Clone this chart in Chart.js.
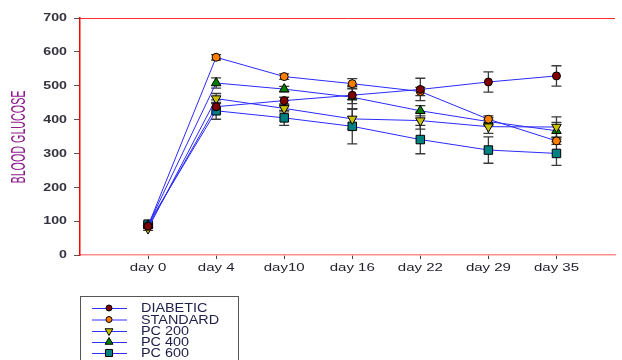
<!DOCTYPE html>
<html>
<head>
<meta charset="utf-8">
<script src="https://cdn.jsdelivr.net/npm/chart.js@4.4.0/dist/chart.umd.min.js"></script>
<style>
  body { margin: 0; background: #fff; }
  canvas { display: block; }
</style>
</head>
<body>
<canvas id="chart" width="622" height="360"></canvas>
<script>
// data
const days = ["day 0", "day 4", "day10", "day 16", "day 22", "day 29", "day 35"];
const seriesNames = ["DIABETIC", "STANDARD", "PC 200", "PC 400", "PC 600"];

const diabetic = [85, 438, 456, 472, 489, 511, 529];
const standard = [86, 584, 527, 506, 483, 401, 337];
const pc200 = [78, 462, 433, 402, 397, 379, 378];
const pc400 = [88, 508, 490, 466, 426, 394, 367];
const pc600 = [91, 426, 405, 380, 341, 310, 300];

const diabeticErr = [5, 20, 10, 25, 33, 30, 30];
const standardErr = [5, 8, 8, 15, 12, 10, 10];
const pc200Err = [5, 15, 10, 30, 25, 20, 30];
const pc400Err = [5, 15, 8, 35, 15, 12, 25];
const pc600Err = [5, 25, 22, 52, 42, 39, 35];

const FONT = "'Liberation Sans', Arial, sans-serif";

const styles = [
  { fill: "#800000", pointStyle: "circle", radius: 4, rotation: 0 },
  { fill: "#ff8000", pointStyle: "circle", radius: 4, rotation: 0 },
  { fill: "#c8c000", pointStyle: "triangle", radius: 5.5, rotation: 180 },
  { fill: "#008000", pointStyle: "triangle", radius: 5.5, rotation: 0 },
  { fill: "#008080", pointStyle: "rect", radius: 6, rotation: 0 },
];

const values = [diabetic, standard, pc200, pc400, pc600];
const errors = [diabeticErr, standardErr, pc200Err, pc400Err, pc600Err];

// draw text squeezed/stretched along its own direction
function stretchText(ctx, txt, x, y, font, sx, align, baseline, color, rotate) {
  ctx.save();
  ctx.translate(x, y);
  if (rotate) ctx.rotate(-Math.PI / 2);
  ctx.scale(sx, 1);
  ctx.font = font;
  ctx.fillStyle = color;
  ctx.textAlign = align;
  ctx.textBaseline = baseline;
  ctx.fillText(txt, 0, 0);
  ctx.restore();
}

const extras = {
  id: "extras",
  beforeDatasetsDraw(chart) {
    const { ctx, scales: { x, y } } = chart;
    ctx.save();
    // error bars
    ctx.strokeStyle = "#3a3a3a";
    ctx.lineWidth = 1.3;
    values.forEach((vals, s) => {
      vals.forEach((v, i) => {
        const e = errors[s][i];
        const px = x.getPixelForValue(i);
        const top = y.getPixelForValue(v + e);
        const bot = y.getPixelForValue(v - e);
        ctx.beginPath();
        ctx.moveTo(px, top); ctx.lineTo(px, bot);
        ctx.moveTo(px - 5, top); ctx.lineTo(px + 5, top);
        ctx.moveTo(px - 5, bot); ctx.lineTo(px + 5, bot);
        ctx.stroke();
      });
    });
    ctx.restore();
  },
  afterDraw(chart) {
    const { ctx, chartArea, scales: { x, y } } = chart;
    ctx.save();
    // top red frame line
    ctx.strokeStyle = "#ff3030";
    ctx.lineWidth = 1;
    ctx.beginPath();
    ctx.moveTo(chartArea.left, chartArea.top + 0.5);
    ctx.lineTo(chartArea.right, chartArea.top + 0.5);
    ctx.stroke();

    // y tick labels
    y.ticks.forEach((t) => {
      stretchText(ctx, String(t.value), 67, y.getPixelForValue(t.value) + 0.5,
        "bold 10px " + FONT, 1.42, "right", "middle", "#333340", false);
    });
    // x tick labels
    days.forEach((d, i) => {
      stretchText(ctx, d, x.getPixelForValue(i), 271, "10px " + FONT, 1.5,
        "center", "alphabetic", "#22222e", false);
    });

    // y axis title, squeezed along the text
    ctx.font = "21px " + FONT;
    const w = ctx.measureText("BLOOD GLUCOSE").width;
    stretchText(ctx, "BLOOD GLUCOSE", 19, 137, "21px " + FONT, 93 / w,
      "center", "middle", "#8b1a8b", true);

    // legend
    ctx.strokeStyle = "#555";
    ctx.lineWidth = 1;
    ctx.strokeRect(80.5, 296.5, 158, 80);
    const rows = [308, 319.5, 331, 342, 353];
    seriesNames.forEach((name, s) => {
      const ry = rows[s];
      ctx.strokeStyle = "#3030ff";
      ctx.beginPath();
      ctx.moveTo(92, ry + 0.5);
      ctx.lineTo(127, ry + 0.5);
      ctx.stroke();
      ctx.fillStyle = styles[s].fill;
      ctx.strokeStyle = "#000";
      Chart.helpers.drawPoint(ctx, {
        pointStyle: styles[s].pointStyle,
        rotation: styles[s].rotation,
        radius: styles[s].radius - 1,
        borderWidth: 1,
      }, 109, ry);
      stretchText(ctx, name, 141, ry + 4, "12px " + FONT, 1.2, "left",
        "alphabetic", "#1e1e4a", false);
    });
    ctx.restore();
  },
};

const datasets = seriesNames.map((name, s) => ({
  label: name,
  data: values[s].map((v, i) => ({ x: i, y: v })),
  borderColor: "#2a2aff",
  borderWidth: 1,
  pointStyle: styles[s].pointStyle,
  pointRotation: styles[s].rotation,
  pointRadius: styles[s].radius,
  pointBackgroundColor: styles[s].fill,
  pointBorderColor: "#000",
  pointBorderWidth: 1,
  tension: 0,
}));

new Chart(document.getElementById("chart"), {
  type: "line",
  data: { datasets },
  plugins: [extras],
  options: {
    responsive: false,
    animation: false,
    layout: { padding: { top: 18, left: 0, right: 0, bottom: 75 } },
    plugins: { legend: { display: false }, tooltip: { enabled: false } },
    scales: {
      x: {
        type: "linear",
        min: -1,
        max: 6.86,
        afterBuildTicks: (scale) => {
          scale.ticks = days.map((d, i) => ({ value: i }));
        },
        afterFit: (scale) => { scale.height = 30; },
        ticks: { display: false },
        grid: { drawOnChartArea: false, drawTicks: true, tickLength: 4, color: "#444" },
        border: { color: "#ff8c8c", width: 1.5 },
      },
      y: {
        min: 0,
        max: 700,
        ticks: { display: false, stepSize: 100 },
        afterFit: (scale) => { scale.width = 80; },
        grid: { drawOnChartArea: false, drawTicks: true, tickLength: 6, color: "#555" },
        border: { color: "#ff0000", width: 1.5 },
      },
    },
  },
});
</script>
</body>
</html>
